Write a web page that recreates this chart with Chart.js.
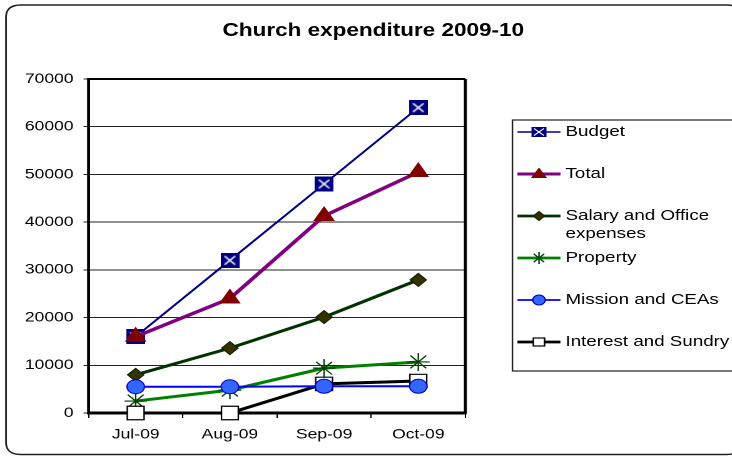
<!DOCTYPE html>
<html><head><meta charset="utf-8">
<script src="https://cdn.jsdelivr.net/npm/chart.js@4/dist/chart.umd.min.js"></script>
<style>
html,body{margin:0;padding:0;background:#fff;overflow:hidden;width:732px;height:456px}
#wrap{position:absolute;left:0;top:0;width:585.6px;height:456px;transform:scaleX(1.25);transform-origin:0 0}
canvas{display:block}
</style></head><body>
<div id="wrap"><canvas id="c"></canvas></div>
<script>
// ---- data ----
const months = ['Jul-09', 'Aug-09', 'Sep-09', 'Oct-09'];
const budget = [16000, 32000, 48000, 64000];
const total = [16000, 24000, 41300, 50500];
const salary = [8000, 13600, 20100, 27900];
const property = [2500, 4800, 9400, 10700];
const mission = [5500, 5500, 5600, 5600];
const interest = [0, 0, 6100, 6700];
const seriesNames = ['Budget', 'Total', ['Salary and Office', 'expenses'], 'Property', 'Mission and CEAs', 'Interest and Sundry'];
const titleText = 'Church expenditure 2009-10';
const yMin = 0, yMax = 70000, yStep = 10000;

const FONT = '"Liberation Sans", Arial, sans-serif';

// custom marker for Budget: navy square with white X
function budgetMarker(s) {
  const c = document.createElement('canvas');
  c.width = s; c.height = s;
  const g = c.getContext('2d');
  g.fillStyle = '#000080';
  g.fillRect(0, 0, s, s);
  g.strokeStyle = '#ffffff';
  g.lineWidth = 1.3;
  const m = s * 0.22;
  g.beginPath();
  g.moveTo(m, m); g.lineTo(s - m, s - m);
  g.moveTo(s - m, m); g.lineTo(m, s - m);
  g.stroke();
  return c;
}

const datasets = [
  {label: 'Budget', data: budget, borderColor: '#000080', borderWidth: 1.8,
   pointStyle: budgetMarker(15), pointRadius: 8, order: 6},
  {label: 'Total', data: total, borderColor: '#800080', borderWidth: 3.3,
   pointStyle: 'triangle', pointRadius: 9, pointBackgroundColor: '#800000', pointBorderColor: '#800000', pointBorderWidth: 1, order: 5},
  {label: 'Salary', data: salary, borderColor: '#003300', borderWidth: 3,
   pointStyle: 'rectRot', pointRadius: 6.5, pointBackgroundColor: '#333300', pointBorderColor: '#1a1a00', pointBorderWidth: 1, order: 4},
  {label: 'Property', data: property, borderColor: '#008000', borderWidth: 3,
   pointStyle: 'star', pointRadius: 9, pointBackgroundColor: '#004000', pointBorderColor: '#004000', pointBorderWidth: 1.2, order: 3},
  {label: 'Mission', data: mission, borderColor: '#0000ff', borderWidth: 2,
   pointStyle: 'circle', pointRadius: 7, pointBackgroundColor: '#3366ff', pointBorderColor: '#0000cc', pointBorderWidth: 1, order: 1},
  {label: 'Interest', data: interest, borderColor: '#000000', borderWidth: 3,
   pointStyle: 'rect', pointRadius: 9.5, pointBackgroundColor: '#ffffff', pointBorderColor: '#000000', pointBorderWidth: 1.2, order: 2}
];
datasets.forEach(d => { d.fill = false; d.tension = 0; d.clip = false; d.pointHoverRadius = d.pointRadius; });

function drawLegendMarker(ctx, i, x, y) {
  ctx.save();
  if (i === 0) {
    const s = 12, h = 10;
    ctx.fillStyle = '#000080';
    ctx.fillRect(x - s / 2, y - h / 2, s, h);
    ctx.strokeStyle = '#fff'; ctx.lineWidth = 1.1;
    ctx.beginPath();
    ctx.moveTo(x - 4, y - 3.5); ctx.lineTo(x + 4, y + 3.5);
    ctx.moveTo(x + 4, y - 3.5); ctx.lineTo(x - 4, y + 3.5);
    ctx.stroke();
  } else if (i === 1) {
    ctx.fillStyle = '#800000';
    ctx.beginPath();
    ctx.moveTo(x, y - 6.5); ctx.lineTo(x + 6.5, y + 4); ctx.lineTo(x - 6.5, y + 4); ctx.closePath();
    ctx.fill();
  } else if (i === 2) {
    ctx.fillStyle = '#333300'; ctx.strokeStyle = '#1a1a00'; ctx.lineWidth = 1;
    ctx.beginPath();
    ctx.moveTo(x, y - 4.5); ctx.lineTo(x + 4.5, y); ctx.lineTo(x, y + 4.5); ctx.lineTo(x - 4.5, y); ctx.closePath();
    ctx.fill(); ctx.stroke();
  } else if (i === 3) {
    ctx.strokeStyle = '#004000'; ctx.lineWidth = 1.2;
    const r = 6;
    ctx.beginPath();
    ctx.moveTo(x, y - r); ctx.lineTo(x, y + r);
    ctx.moveTo(x - r * 0.7, y - r * 0.7); ctx.lineTo(x + r * 0.7, y + r * 0.7);
    ctx.moveTo(x + r * 0.7, y - r * 0.7); ctx.lineTo(x - r * 0.7, y + r * 0.7);
    ctx.stroke();
  } else if (i === 4) {
    ctx.fillStyle = '#3366ff'; ctx.strokeStyle = '#0000cc'; ctx.lineWidth = 1;
    ctx.beginPath(); ctx.arc(x, y, 5, 0, Math.PI * 2); ctx.fill(); ctx.stroke();
  } else {
    ctx.fillStyle = '#fff'; ctx.strokeStyle = '#000'; ctx.lineWidth = 1.2;
    ctx.fillRect(x - 4.5, y - 4, 9, 8); ctx.strokeRect(x - 4.5, y - 4, 9, 8);
  }
  ctx.restore();
}

function roundRect(ctx, x, y, w, h, r) {
  ctx.beginPath();
  ctx.moveTo(x + r, y);
  ctx.lineTo(x + w - r, y); ctx.quadraticCurveTo(x + w, y, x + w, y + r);
  ctx.lineTo(x + w, y + h - r); ctx.quadraticCurveTo(x + w, y + h, x + w - r, y + h);
  ctx.lineTo(x + r, y + h); ctx.quadraticCurveTo(x, y + h, x, y + h - r);
  ctx.lineTo(x, y + r); ctx.quadraticCurveTo(x, y, x + r, y);
  ctx.closePath();
}

const decor = {
  id: 'decor',
  beforeDraw(chart) {
    const ctx = chart.ctx;
    ctx.save();
    ctx.fillStyle = '#fff';
    ctx.fillRect(0, 0, chart.width, chart.height);
    ctx.strokeStyle = '#222'; ctx.lineWidth = 1.4;
    roundRect(ctx, 4.8, 5, 588, 449.5, 12);
    ctx.stroke();
    // title
    ctx.fillStyle = '#000';
    ctx.font = 'bold 18px ' + FONT;
    ctx.textAlign = 'center'; ctx.textBaseline = 'middle';
    ctx.fillText(titleText, 298.4, 31);
    // legend box (right side runs off the picture)
    ctx.strokeStyle = '#222'; ctx.lineWidth = 1.2;
    ctx.strokeRect(409.6, 120, 300, 251);
    const rows = [132, 174, 216, 258, 300, 342];
    ctx.font = '15px ' + FONT;
    ctx.textAlign = 'left';
    chart.data.datasets.forEach((d, i) => {
      const y = rows[i];
      ctx.strokeStyle = d.borderColor;
      ctx.lineWidth = Math.max(1.6, d.borderWidth * 0.9);
      ctx.beginPath(); ctx.moveTo(413.6, y); ctx.lineTo(448, y); ctx.stroke();
      drawLegendMarker(ctx, i, 430.8, y);
      ctx.fillStyle = '#000';
      const name = seriesNames[i];
      if (Array.isArray(name)) {
        name.forEach((t, k) => ctx.fillText(t, 452, y + k * 18));
      } else ctx.fillText(name, 452, y);
    });
    ctx.restore();
  },
  beforeDatasetsDraw(chart) {
    const ctx = chart.ctx, a = chart.chartArea;
    ctx.save();
    ctx.strokeStyle = '#000';
    ctx.lineWidth = 2; ctx.beginPath(); ctx.moveTo(a.left, a.top); ctx.lineTo(a.right, a.top); ctx.stroke();
    ctx.lineWidth = 2.4; ctx.beginPath(); ctx.moveTo(a.right, a.top); ctx.lineTo(a.right, a.bottom); ctx.stroke();
    ctx.lineWidth = 2.4; ctx.beginPath(); ctx.moveTo(a.left, a.top - 1); ctx.lineTo(a.left, a.bottom + 1.5); ctx.stroke();
    ctx.lineWidth = 3; ctx.beginPath(); ctx.moveTo(a.left, a.bottom); ctx.lineTo(a.right + 1, a.bottom); ctx.stroke();
    ctx.restore();
  }
};

new Chart(document.getElementById('c'), {
  type: 'line',
  data: {labels: months, datasets: datasets},
  options: {
    responsive: true, maintainAspectRatio: false, animation: false,
    devicePixelRatio: 2,
    layout: {padding: {left: 0, right: 213.6, top: 79, bottom: 0}},
    plugins: {legend: {display: false}, title: {display: false}, tooltip: {enabled: false}},
    events: [],
    scales: {
      x: {
        type: 'category', offset: true,
        grid: {display: true, offset: true, drawOnChartArea: false, drawTicks: true, tickLength: 5, color: '#000', lineWidth: 1},
        border: {display: false},
        ticks: {color: '#000', font: {family: FONT, size: 14}, padding: 8, maxRotation: 0, autoSkip: false},
        afterFit(s) { s.height = 43; }
      },
      y: {
        min: yMin, max: yMax,
        grid: {display: true, drawOnChartArea: true, drawTicks: true, tickLength: 4, color: '#222', lineWidth: 1},
        border: {display: false},
        ticks: {stepSize: yStep, color: '#000', font: {family: FONT, size: 14}, padding: 8, callback: v => String(v)},
        afterFit(s) { s.width = 70.8; }
      }
    }
  },
  plugins: [decor]
});
</script>
</body></html>
